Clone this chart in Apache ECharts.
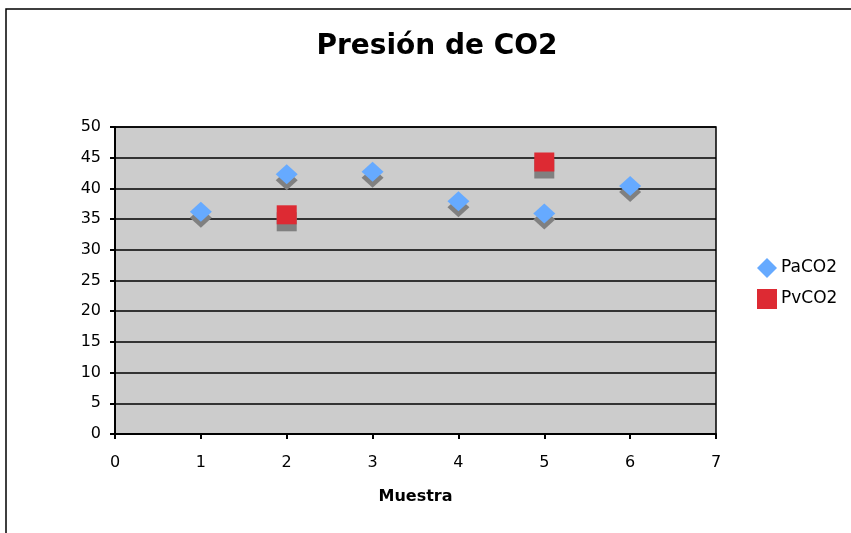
<!DOCTYPE html>
<html><head><meta charset="utf-8">
<script src="https://cdn.jsdelivr.net/npm/echarts@6/dist/echarts.min.js"></script>
<style>html,body{margin:0;padding:0;background:#fff}#c{width:851px;height:533px}</style>
</head><body><div id="c"></div>
<script>
const titleText = 'Presión de CO2';
const xName = 'Muestra';
const paName = 'PaCO2';
const pvName = 'PvCO2';
const paX = [1, 2, 3, 4, 5, 6];
const paY = [36.2, 42.3, 42.7, 37.9, 35.9, 40.4];
const pvX = [2, 5];
const pvY = [35.7, 44.3];

const pa = paX.map((x, i) => [x, paY[i]]);
const pv = pvX.map((x, i) => [x, pvY[i]]);
const font = 'DejaVu Sans';

const chart = echarts.init(document.getElementById('c'), null, {renderer: 'canvas'});
chart.setOption({
  animation: false,
  backgroundColor: '#ffffff',
  textStyle: {fontFamily: font},
  graphic: [{
    type: 'rect', shape: {x: 6, y: 9, width: 900, height: 600},
    style: {fill: 'none', stroke: '#000', lineWidth: 1.5}, z: -10, silent: true
  }, {
    type: 'text', x: 437, y: 47, silent: true,
    style: {text: titleText, textAlign: 'center', textVerticalAlign: 'middle',
      fontFamily: font, fontWeight: 'bold', fontSize: 28, fill: '#000'}
  }],
  grid: {left: 115, right: 135, top: 127, bottom: 99, show: true,
    backgroundColor: '#cccccc', borderColor: '#000', borderWidth: 1.5},
  legend: {
    orient: 'vertical', left: 757, top: 258, itemGap: 11, padding: 0,
    itemWidth: 20, itemHeight: 20,
    data: [{name: paName, icon: 'diamond'}, {name: pvName, icon: 'rect'}],
    textStyle: {fontFamily: font, fontSize: 17, color: '#000', padding: [0, 0, 0, -1]}
  },
  xAxis: {
    type: 'value', min: 0, max: 7, interval: 1,
    name: xName, nameLocation: 'middle', nameGap: 55,
    nameTextStyle: {fontFamily: font, fontWeight: 'bold', fontSize: 16, color: '#000'},
    axisLine: {lineStyle: {color: '#000', width: 2}},
    axisTick: {show: true, inside: false, length: 5, lineStyle: {color: '#000', width: 2}},
    axisLabel: {fontFamily: font, fontSize: 16, color: '#000', margin: 21},
    splitLine: {show: false}
  },
  yAxis: {
    type: 'value', min: 0, max: 50, interval: 5,
    axisLine: {show: true, lineStyle: {color: '#000', width: 2}},
    axisTick: {show: true, inside: false, length: 5, lineStyle: {color: '#000', width: 2}},
    axisLabel: {fontFamily: font, fontSize: 16, color: '#000', margin: 14},
    splitLine: {show: true, lineStyle: {color: '#000', width: 1.5}}
  },
  series: [
    {name: 'sh1', type: 'scatter', data: pa, symbol: 'diamond', symbolSize: [22, 20],
      symbolOffset: [0, 6], itemStyle: {color: '#808080', opacity: 1}, silent: true, z: 1},
    {name: 'sh2', type: 'scatter', data: pv, symbol: 'rect', symbolSize: [20, 19],
      symbolOffset: [0, 7], itemStyle: {color: '#808080', opacity: 1}, silent: true, z: 1},
    {name: paName, type: 'scatter', data: pa, symbol: 'diamond', symbolSize: [22, 20],
      itemStyle: {color: '#66aaff', opacity: 1}, z: 3},
    {name: pvName, type: 'scatter', data: pv, symbol: 'rect', symbolSize: [20, 19],
      itemStyle: {color: '#dd2a33', opacity: 1}, z: 3}
  ]
});
</script></body></html>
